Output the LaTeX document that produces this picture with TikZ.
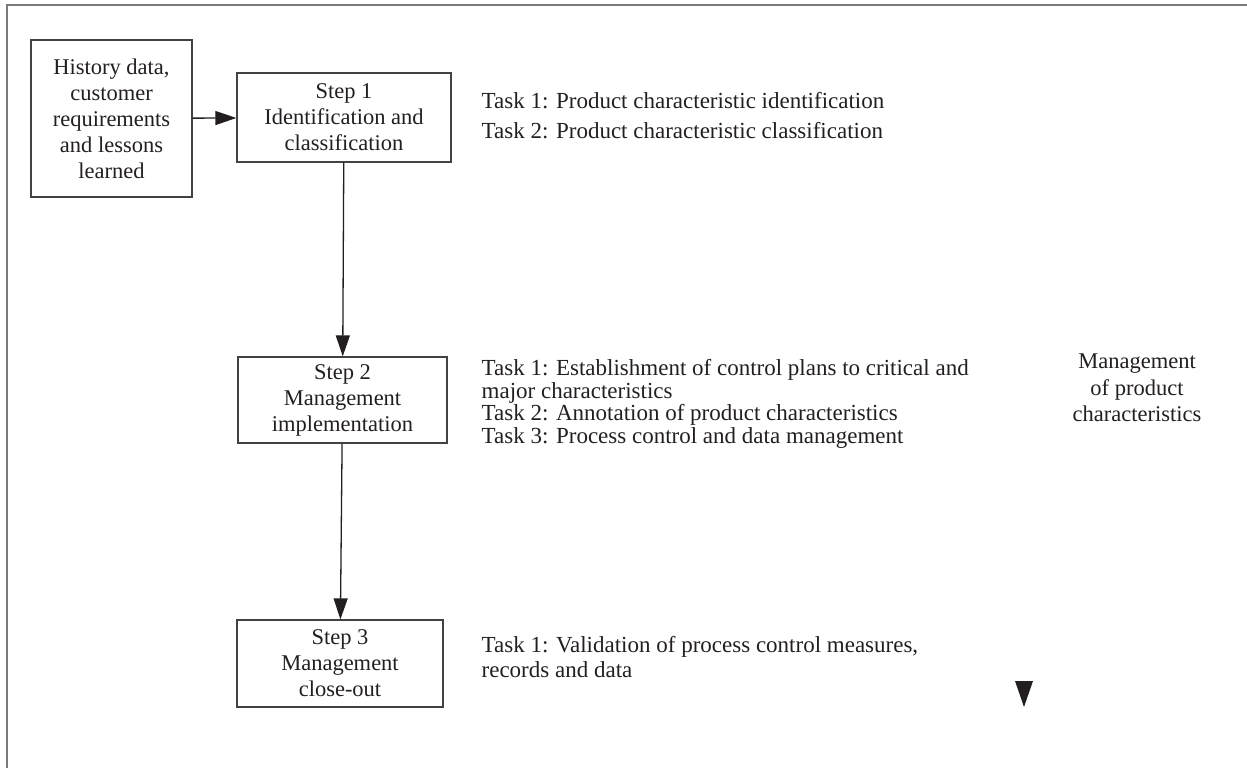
\documentclass[tikz,border=0pt]{standalone}
\usepackage{fontspec}
\setmainfont{Liberation Serif}
\usetikzlibrary{arrows.meta}

\definecolor{ink}{HTML}{231F20}
\definecolor{framegray}{HTML}{7A7A7A}

\tikzset{
  stepbox/.style={draw=ink!85,line width=1.3pt,align=center,text=ink,
    minimum width=210pt,minimum height=88pt,inner sep=0pt,
    font=\fontsize{22.5}{26}\selectfont},
  tasks/.style={anchor=west,align=left,text=ink,inner sep=0pt},
}

\begin{document}
\begin{tikzpicture}[x=1pt,y=-1pt,>={Triangle[length=21pt,width=14pt]},line width=1.3pt]
\useasboundingbox (0,0) rectangle (1247,768);

% Frame (only top and left edges show)
\draw[framegray,line width=2pt] (1247,5) -- (7,5) -- (7,768);

% Input box
\node[stepbox,minimum width=161pt,minimum height=157pt] (hist) at (111.5,118.5)
  {History data,\\customer\\requirements\\and lessons\\learned};

% Steps
\node[stepbox,minimum width=214pt,minimum height=89pt] (s1) at (344,117.5)
  {Step 1\\Identification and\\classification};
\node[stepbox,minimum width=209pt,minimum height=86pt] (s2) at (342.5,400)
  {Step 2\\Management\\implementation};
\node[stepbox,minimum width=206pt,minimum height=87pt] (s3) at (340,663.5)
  {Step 3\\Management\\close-out};

% Arrows
\draw[->,ink] (hist) -- (s1);
\draw[->,ink] (s1) -- (s2);
\draw[->,ink] (s2) -- (s3);

% Tasks
\node[tasks,font=\fontsize{23}{30}\selectfont] (t1) at (481,116)
  {Task 1: Product characteristic identification\\
   Task 2: Product characteristic classification};
\node[tasks,font=\fontsize{23}{22.5}\selectfont] (t2) at (481,404)
  {Task 1: Establishment of control plans to critical and\\
   major characteristics\\
   Task 2: Annotation of product characteristics\\
   Task 3: Process control and data management};
\node[tasks,font=\fontsize{23}{25}\selectfont] (t3) at (481,657)
  {Task 1: Validation of process control measures,\\
   records and data};

% Side label
\node[align=center,text=ink,inner sep=0pt,font=\fontsize{22.5}{26.5}\selectfont] (mgmt) at (1137,388)
  {Management\\of product\\characteristics};

% Loose arrow head
\coordinate (tip) at (1024,707);
\fill[ink] (tip) -- ++(-9,-26) -- ++(18,0) -- cycle;

\end{tikzpicture}
\end{document}
